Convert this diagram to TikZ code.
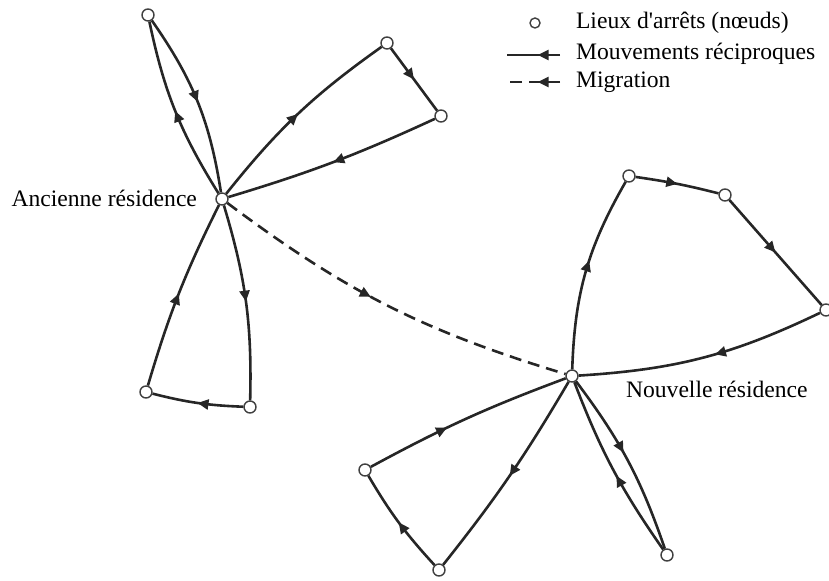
\documentclass[tikz,border=0pt]{standalone}
\usepackage{fontspec}
\setmainfont{Liberation Serif}
\usetikzlibrary{arrows.meta,decorations.markings}
\tikzset{
  halt/.style={circle,draw=black!75,fill=white,line width=0.7pt,inner sep=0pt,minimum size=6pt},
  trip/.style={line width=1.3pt,draw=black!85,postaction={decorate},
    decoration={markings,mark=at position #1 with {\arrow{Triangle[length=5.5pt,width=5pt]}}}},
  trip/.default=0.5,
  migr/.style={trip=#1,dash pattern=on 6pt off 3.5pt},
  migr/.default=0.5,
}
\begin{document}
\begin{tikzpicture}[x=0.5pt,y=-0.5pt,every node/.style={font=\fontsize{11.8}{14}\selectfont}]
\useasboundingbox (0,0) rectangle (829,581);
\node[halt] (old) at (222,199) {};
\node[halt] (o1) at (148,15) {};
\node[halt] (o2) at (387,43) {};
\node[halt] (o3) at (441,116) {};
\node[halt] (o4) at (250,407) {};
\node[halt] (o5) at (146,392) {};
\node[halt] (new) at (572,376) {};
\node[halt] (n1) at (629,176) {};
\node[halt] (n2) at (725,195) {};
\node[halt] (n3) at (826,310) {};
\node[halt] (n4) at (439,570) {};
\node[halt] (n5) at (365,470) {};
\node[halt] (n6) at (667,555) {};
\draw[trip] (old) to[bend left=10] (o1);
\draw[trip] (o1) to[bend left=13] (old);
\draw[trip] (old) to[bend left=8] (o2);
\draw[trip] (o2) -- (o3);
\draw[trip] (o3) to[bend left=4] (old);
\draw[trip] (old) to[bend left=9] (o4);
\draw[trip] (o4) to[bend left=6] (o5);
\draw[trip] (o5) to[bend left=5] (old);
\draw[migr=0.45] (old) to[bend right=10] (new);
\draw[trip=0.56] (new) to[bend left=14] (n1);
\draw[trip] (n1) to[bend left=3] (n2);
\draw[trip] (n2) -- (n3);
\draw[trip=0.45] (n3) to[bend left=11] (new);
\draw[trip] (new) to[bend left=4] (n4);
\draw[trip] (n4) to[bend left=6] (n5);
\draw[trip=0.4] (n5) to[bend left=4] (new);
\draw[trip=0.45] (new) to[bend left=9] (n6);
\draw[trip=0.46] (n6) to[bend left=7] (new);
\node[anchor=base east] (oldlbl) at (204,207) {Ancienne résidence};
\node[anchor=base west] (newlbl) at (619,398) {Nouvelle résidence};
% legende
\node[halt,minimum size=5pt] (key1) at (535,23) {};
\coordinate (key2a) at (507,55);
\coordinate (key2b) at (560,55);
\coordinate (key3a) at (507,82);
\coordinate (key3b) at (560,82);
\draw[trip=0.42] (key2b) -- (key2a);
\draw[migr=0.42] (key3b) -- (key3a);
\node[anchor=base west] (txt1) at (569,29) {Lieux d\textquotesingle arrêts (nœuds)};
\node[anchor=base west] (txt2) at (569,60) {Mouvements réciproques};
\node[anchor=base west] (txt3) at (569,88) {Migration};
\end{tikzpicture}
\end{document}
